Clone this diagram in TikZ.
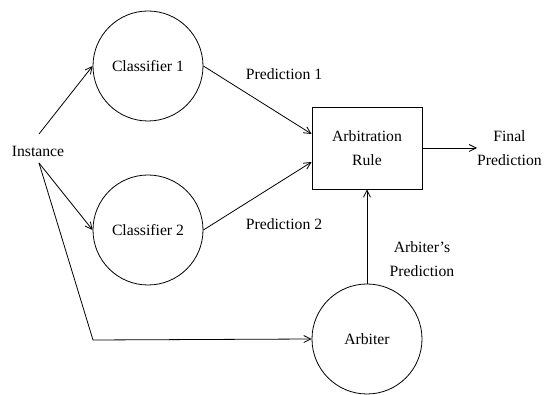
\documentclass[tikz,border=0pt]{standalone}
\usepackage{fontspec}
\setmainfont{Liberation Serif}
\usetikzlibrary{arrows.meta}
\tikzset{
  txt/.style={font=\fontsize{15.7}{24}\selectfont, align=center, inner sep=0pt},
  unit/.style={draw, circle, minimum size=110pt, inner sep=0pt, line width=0.8pt, txt},
  rulebox/.style={draw, rectangle, minimum width=110pt, minimum height=82pt, inner sep=0pt, line width=0.8pt, txt},
  conn/.style={line width=0.8pt},
  arr/.style={conn, -{Straight Barb[length=7pt,width=7pt]}}
}
\begin{document}
\begin{tikzpicture}[x=1pt,y=-1pt]
\useasboundingbox (0,0) rectangle (547,395);
\node[unit] (c1) at (148,66) {Classifier 1};
\node[unit] (c2) at (148,230) {Classifier 2};
\node[unit] (arb) at (367,339) {Arbiter};
\node[rulebox] (rule) at (367,148) {Arbitration\\Rule};
\node[txt] (inst) at (38,151) {Instance};
\node[txt, anchor=west] (fp) at (477,148) {Final\\Prediction};
\node[txt] (p1) at (284,74) {Prediction 1};
\node[txt] (p2) at (284,224) {Prediction 2};
\node[txt] (ap) at (422,259) {Arbiter's\\Prediction};
\coordinate (i1) at (39,134);
\coordinate (i2) at (39,163);
\coordinate (corner) at (93,340);
\draw[arr] (i1) -- (c1.west);
\draw[arr] (i2) -- (c2.west);
\draw[arr] (i2) -- (corner) -- (arb.west);
\draw[arr] (c1.east) -- ([yshift=14pt]rule.west);
\draw[arr] (c2.east) -- ([yshift=-14pt]rule.west);
\draw[arr] (rule.east) -- (fp.west);
\draw[arr] (arb.north) -- (rule.south);
\end{tikzpicture}
\end{document}
